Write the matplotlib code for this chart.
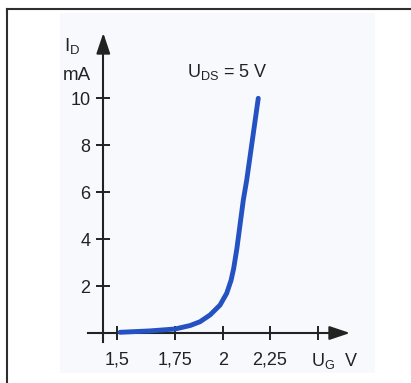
import numpy as np
import matplotlib
matplotlib.use("Agg")
import matplotlib.pyplot as plt
from matplotlib.lines import Line2D

plt.rcParams['font.family'] = ['Liberation Sans', 'DejaVu Sans']
plt.rcParams['mathtext.fontset'] = 'custom'
plt.rcParams['mathtext.rm'] = 'Liberation Sans'
plt.rcParams['mathtext.it'] = 'Liberation Sans'

# ---- data ----
ug_volts = [1.512, 1.642, 1.75, 1.83, 1.881, 1.934, 1.986, 2.021, 2.044, 2.058, 2.075, 2.109, 2.127, 2.188]
id_mA    = [0.03, 0.09, 0.17, 0.32, 0.48, 0.77, 1.19, 1.69, 2.24, 2.75, 3.6, 5.67, 6.52, 10.0]

x_ticks = [1.5, 1.75, 2.0, 2.25, 2.5]
x_tick_labels = ['1,5', '1,75', '2', '2,25', '']
y_ticks = [2, 4, 6, 8, 10]
y_tick_labels = ['2', '4', '6', '8', '10']

# non-uniform drawn x scale of the original figure (tick positions in px)
scale_pos = [117.3, 175.0, 222.7, 270.0, 317.7]

def fwd(x):
    x = np.asarray(x, dtype=float)
    xs, ps = np.array(x_ticks), np.array(scale_pos)
    y = np.interp(x, xs, ps)
    lo = x < xs[0]
    hi = x > xs[-1]
    y = np.where(lo, ps[0] + (x - xs[0]) * (ps[1] - ps[0]) / (xs[1] - xs[0]), y)
    y = np.where(hi, ps[-1] + (x - xs[-1]) * (ps[-1] - ps[-2]) / (xs[-1] - xs[-2]), y)
    return y

def inv(p):
    p = np.asarray(p, dtype=float)
    xs, ps = np.array(x_ticks), np.array(scale_pos)
    x = np.interp(p, ps, xs)
    lo = p < ps[0]
    hi = p > ps[-1]
    x = np.where(lo, xs[0] + (p - ps[0]) * (xs[1] - xs[0]) / (ps[1] - ps[0]), x)
    x = np.where(hi, xs[-1] + (p - ps[-1]) * (xs[-1] - xs[-2]) / (ps[-1] - ps[-2]), x)
    return x

W, H = 411, 383
fig = plt.figure(figsize=(W / 100, H / 100), dpi=100)
fig.patch.set_facecolor('white')

# outer frame lines (top and left)
fig.add_artist(Line2D([7 / W, 1.0], [1 - 9 / H, 1 - 9 / H], color='#2e2e2e', lw=1.5))
fig.add_artist(Line2D([7 / W, 7 / W], [0.0, 1 - 9 / H], color='#2e2e2e', lw=1.5))

left_px, right_px, top_px, bot_px = 60, 375, 13, 373
ax = fig.add_axes([left_px / W, 1 - bot_px / H, (right_px - left_px) / W, (bot_px - top_px) / H])
ax.set_facecolor('#f8f9fc')
ax.set_xscale('function', functions=(fwd, inv))
ax.set_xlim(float(inv(left_px)), float(inv(right_px)))
ax.set_ylim((333 - bot_px) / 23.47, (333 - top_px) / 23.47)

y_axis_x = float(inv(103.3))
x_axis_start = float(inv(88))
x_axis_tip = float(inv(350))
y_axis_bottom = -0.38
y_axis_tip = (333 - 33) / 23.47

axis_col = '#222222'
for s in ['top', 'right']:
    ax.spines[s].set_visible(False)
ax.spines['left'].set_position(('data', y_axis_x))
ax.spines['bottom'].set_position(('data', 0))
ax.spines['left'].set_bounds(y_axis_bottom, y_axis_tip - 0.5)
ax.spines['bottom'].set_bounds(x_axis_start, float(inv(336)))
for s in ['left', 'bottom']:
    ax.spines[s].set_linewidth(1.5)
    ax.spines[s].set_color(axis_col)

# arrow heads
ax.annotate('', xy=(y_axis_x, y_axis_tip), xytext=(y_axis_x, y_axis_tip - 0.8),
            arrowprops=dict(arrowstyle='-|>,head_length=1.25,head_width=0.42',
                            mutation_scale=10, color=axis_col, lw=1.5, shrinkA=0, shrinkB=0))
ax.annotate('', xy=(x_axis_tip, 0), xytext=(float(inv(330)), 0),
            arrowprops=dict(arrowstyle='-|>,head_length=1.25,head_width=0.42',
                            mutation_scale=10, color=axis_col, lw=1.5, shrinkA=0, shrinkB=0))

ax.set_xticks(x_ticks)
ax.set_xticklabels(x_tick_labels)
ax.set_yticks(y_ticks)
ax.set_yticklabels(y_tick_labels)
ax.minorticks_off()
ax.tick_params(axis='x', direction='inout', length=10, width=1.4, color=axis_col,
               pad=8.5, labelsize=13, labelcolor='#222222')
ax.tick_params(axis='y', direction='inout', length=10.5, width=1.4, color=axis_col,
               pad=4, labelsize=13, labelcolor='#222222')

# curve
ax.plot(ug_volts, id_mA, color='#2452c2', lw=3.5, solid_capstyle='round',
        solid_joinstyle='round', zorder=3)

# texts (placed in pixel-derived axes fractions)
def axfrac(px, py):
    return ((px - left_px) / (right_px - left_px), (bot_px - py) / (bot_px - top_px))

tc = '#222222'
ax.text(*axfrac(64, 46), r'$\mathregular{I_D}$', transform=ax.transAxes, fontsize=13.5,
        ha='left', va='center', color=tc)
ax.text(*axfrac(63, 76), 'mA', transform=ax.transAxes, fontsize=13.5,
        ha='left', va='center', color=tc)
ax.text(*axfrac(187, 72), r'$\mathregular{U_{DS}}$ = 5 V', transform=ax.transAxes,
        fontsize=13, ha='left', va='center', color=tc)
ax.text(*axfrac(311, 361), r'$\mathregular{U_G}$  V', transform=ax.transAxes,
        fontsize=13, ha='left', va='center', color=tc)

fig.savefig('out.png', dpi=100, facecolor='white')
